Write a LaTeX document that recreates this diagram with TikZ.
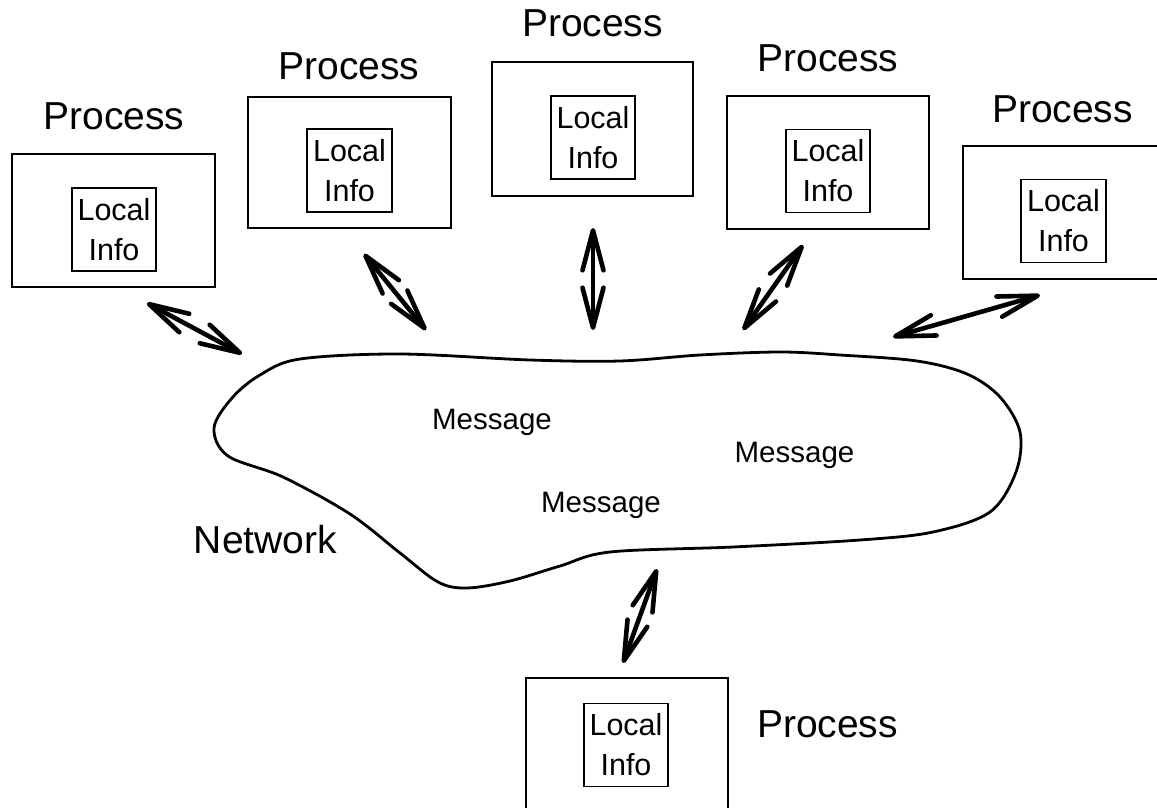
\documentclass[tikz,border=0pt]{standalone}
\usepackage{fontspec}
\setmainfont{Liberation Sans}
\usetikzlibrary{arrows.meta}
\begin{document}
\begin{tikzpicture}[x=1pt,y=-1pt,
  outerbox/.style={draw, line width=2.8pt, inner sep=0pt, rectangle},
  innerbox/.style={draw, line width=1.2pt, inner sep=0pt, minimum width=84pt, minimum height=83pt, align=center, font=\fontsize{30.5}{40}\selectfont},
  proc/.style={anchor=base, inner sep=0pt, font=\fontsize{39}{45}\selectfont},
  msg/.style={anchor=base, inner sep=0pt, font=\fontsize{29.5}{35}\selectfont},
  link/.style={line width=4.6pt, line cap=round, line join=round, {Straight Barb[length=40pt,width=21pt,round]}-{Straight Barb[length=40pt,width=21pt,round]}},
  cloudline/.style={draw, line width=2.8pt, line join=round}]
\path[use as bounding box, clip] (0,0) rectangle (1157,808);
\fill[white] (0,0) rectangle (1157,808);

% processes
\node[outerbox, minimum width=203pt, minimum height=133pt] (b1) at (113.5,220.5) {};
\node[innerbox] (i1) at (114,229.5) {Local\\Info};
\node[proc] (t1) at (114,129) {Process};

\node[outerbox, minimum width=203pt, minimum height=131pt] (b2) at (349.5,162.5) {};
\node[innerbox, minimum width=85pt] (i2) at (349.5,170.5) {Local\\Info};
\node[proc] (t2) at (349,80) {Process};

\node[outerbox, minimum width=201pt, minimum height=134pt] (b3) at (592.5,129) {};
\node[innerbox] (i3) at (593,137.5) {Local\\Info};
\node[proc] (t3) at (592.5,37) {Process};

\node[outerbox, minimum width=202pt, minimum height=133pt] (b4) at (828,162.5) {};
\node[innerbox] (i4) at (828,171) {Local\\Info};
\node[proc] (t4) at (828,71) {Process};

\node[outerbox, minimum width=203pt, minimum height=133pt] (b5) at (1064.5,212.5) {};
\node[innerbox, minimum width=85pt] (i5) at (1063.5,221) {Local\\Info};
\node[proc] (t5) at (1062.5,122) {Process};

\node[outerbox, minimum width=202pt, minimum height=133pt] (b6) at (627,744.5) {};
\node[innerbox] (i6) at (626,745) {Local\\Info};
\node[proc] (t6) at (827.5,737) {Process};

% network cloud
\draw[cloudline] plot[smooth cycle, tension=0.55] coordinates {
 (300,359) (400,354) (530,360) (620,361) (700,355) (780,352) (840,355) (917,361)
 (967,374) (1000,397) (1020,432) (1016,472) (990,512) (933,532) (860,540) (733,547)
 (610,552) (560,566) (510,581) (467,588) (438,582) (400,553) (350,514) (283,477)
 (228,456) (214,428) (232,398) (260,375)};
\node[proc] (net) at (265.5,553) {Network};
\node[msg] (m1) at (492,429) {Message};
\node[msg] (m2) at (794.5,462) {Message};
\node[msg] (m3) at (601,512) {Message};

% connector end points
\coordinate (a1p) at (147,303); \coordinate (a1n) at (242,354);
\coordinate (a2p) at (364,254); \coordinate (a2n) at (426,330);
\coordinate (a3p) at (593,228); \coordinate (a3n) at (593,330);
\coordinate (a4p) at (803,245); \coordinate (a4n) at (743,330);
\coordinate (a5p) at (1040,295); \coordinate (a5n) at (893,337);
\coordinate (a6n) at (657,569); \coordinate (a6p) at (623,663);

\draw[link] (a1p) -- (a1n);
\draw[link] (a2p) -- (a2n);
\draw[link] (a3p) -- (a3n);
\draw[link] (a4p) -- (a4n);
\draw[link] (a5p) -- (a5n);
\draw[link] (a6n) -- (a6p);
\end{tikzpicture}
\end{document}
